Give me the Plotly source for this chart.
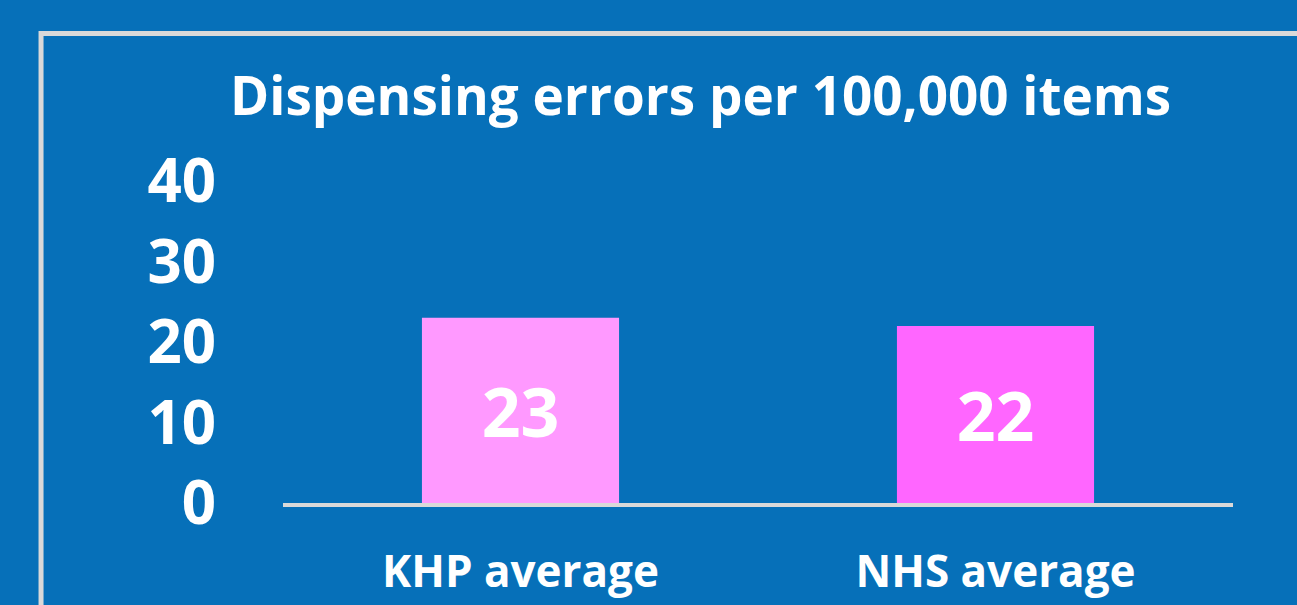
import plotly.graph_objects as go

categories = ["KHP average", "NHS average"]
values = [23, 22]
bar_colors = ["#FF99FF", "#FF66FF"]
y_ticks = [0, 10, 20, 30, 40]
title_text = "Dispensing errors per 100,000 items"

BG = "#0670B9"
GREY = "#D9D9D9"
FONT = "Open Sans"

fig = go.Figure()
fig.add_trace(go.Bar(
    x=categories,
    y=values,
    marker=dict(color=bar_colors, line=dict(width=0)),
    width=0.415,
    text=[str(v) for v in values],
    textposition="inside",
    insidetextanchor="middle",
    textangle=0,
    constraintext="none",
    textfont=dict(family=FONT, size=68, color="white", weight="bold"),
    hoverinfo="skip",
))

fig.update_layout(
    width=1297, height=605,
    paper_bgcolor=BG, plot_bgcolor=BG,
    margin=dict(l=283, r=64, t=181, b=102),
    showlegend=False,
    xaxis=dict(
        automargin=False,
        showline=True, linecolor=GREY, linewidth=4,
        showgrid=False, zeroline=False, ticks="",
        tickfont=dict(family=FONT, size=44, color="white", weight="bold"),
        ticklabelstandoff=27,
    ),
    yaxis=dict(
        automargin=False,
        range=[0, 40], tickvals=y_ticks,
        showline=False, showgrid=False, zeroline=False, ticks="",
        tickfont=dict(family=FONT, size=60, color="white", weight="bold"),
        ticklabelstandoff=66,
    ),
    annotations=[dict(
        text=title_text, xref="paper", yref="paper",
        x=0.439, y=1.27, xanchor="center", yanchor="middle",
        showarrow=False,
        font=dict(family=FONT, size=53, color="white", weight="bold"),
    )],
    shapes=[dict(
        type="rect", xref="paper", yref="paper",
        x0=-0.2547, x1=1.10, y0=-0.40, y1=1.458,
        line=dict(color=GREY, width=5), fillcolor="rgba(0,0,0,0)",
        layer="below",
    )],
)

fig.write_html(
    "out.html",
    config={"displayModeBar": False},
    post_script="document.body.style.margin='0';document.body.style.overflow='hidden';",
)
